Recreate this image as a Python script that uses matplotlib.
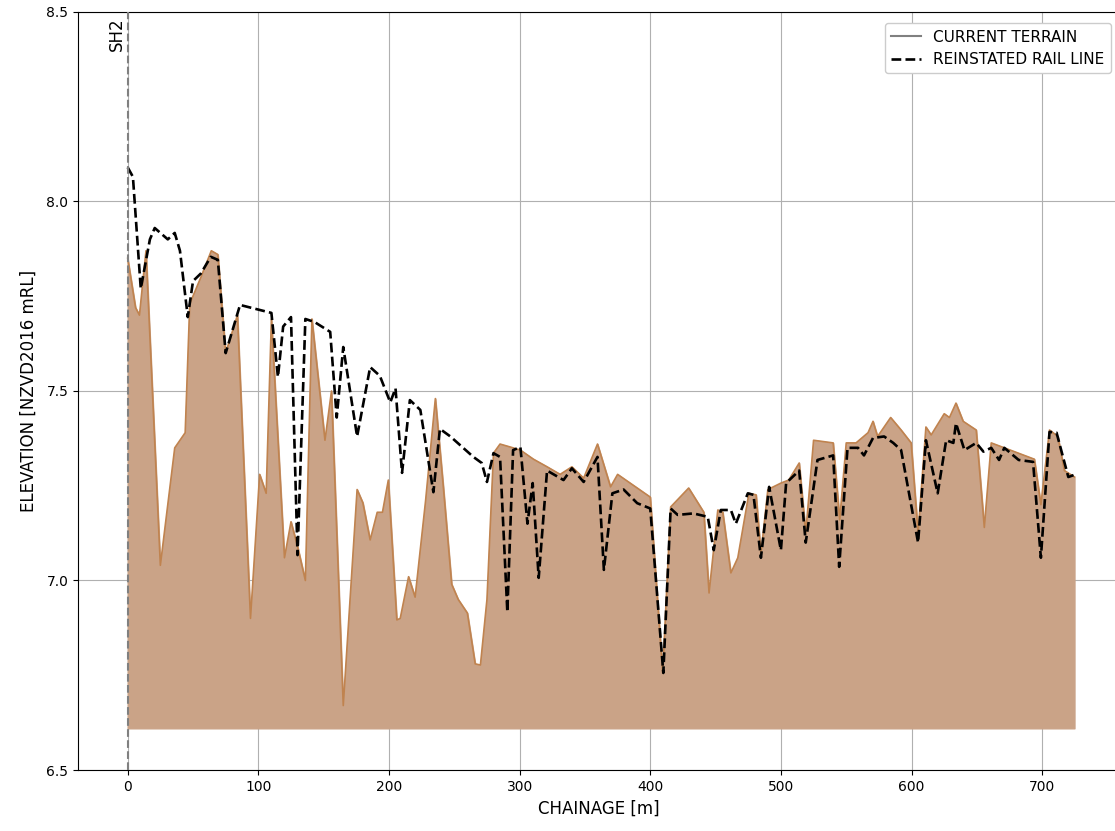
import numpy as np
import matplotlib
matplotlib.use('Agg')
import matplotlib.pyplot as plt
from matplotlib.lines import Line2D

# current terrain profile (chainage m, elevation mRL)
terrain_x = [0, 6, 9, 14, 25, 36, 44, 47.5, 56, 64, 69, 75, 84, 94, 101, 106, 110, 120, 125, 130, 136,
             141, 151, 156, 165, 175.6, 180, 185.6, 191, 195, 199.5, 206, 208.6, 215, 220, 228, 235.5,
             241.6, 248, 253, 260, 266, 270, 275, 280, 285, 295, 300.6, 310.6, 321, 331, 340, 349,
             359.6, 369.6, 375, 400, 409.5, 415.6, 429.4, 441, 445, 451.7, 455.5, 461.7, 467, 475.5,
             481, 484.7, 490, 500, 506, 514, 519, 525, 540, 545, 550, 557.5, 566.7, 570.5, 574, 584,
             592, 599.7, 605, 611, 615, 625, 629, 634, 639.5, 649.5, 655.7, 661, 671, 694, 699, 705.6,
             712, 717, 724.7]
terrain_z = [7.85, 7.72, 7.70, 7.87, 7.04, 7.35, 7.39, 7.73, 7.80, 7.87, 7.86, 7.60, 7.70, 6.90, 7.28,
             7.23, 7.69, 7.06, 7.155, 7.09, 7.00, 7.69, 7.37, 7.50, 6.67, 7.24, 7.205, 7.107, 7.18,
             7.18, 7.265, 6.896, 6.90, 7.01, 6.956, 7.21, 7.48, 7.247, 6.99, 6.95, 6.914, 6.78, 6.777,
             6.95, 7.336, 7.36, 7.35, 7.344, 7.32, 7.30, 7.28, 7.30, 7.27, 7.36, 7.247, 7.28, 7.22,
             6.756, 7.194, 7.244, 7.18, 6.967, 7.186, 7.18, 7.02, 7.06, 7.23, 7.226, 7.07, 7.24,
             7.257, 7.265, 7.31, 7.125, 7.37, 7.363, 7.16, 7.363, 7.363, 7.39, 7.42, 7.38, 7.43,
             7.397, 7.363, 7.125, 7.405, 7.384, 7.44, 7.43, 7.468, 7.42, 7.397, 7.14, 7.363, 7.35,
             7.32, 7.2, 7.397, 7.38, 7.29, 7.273]

# reinstated rail line
rail_x = [0, 4, 10, 17, 20.7, 30.7, 36, 40, 46, 50, 56, 63.6, 69, 75, 86, 110, 115, 119, 125, 130, 136,
          143, 155, 160, 165, 175.6, 185.6, 193, 201, 205, 210, 216, 224, 234, 239, 247, 264.6, 271,
          275, 280, 285, 290.6, 295, 300.6, 306, 310, 314.6, 321, 333.6, 340, 349, 359.6, 364.5, 371,
          379.6, 390, 400, 410, 415.6, 421, 433, 444, 448.6, 454, 461.7, 465.5, 474.7, 479, 484.7,
          491, 500, 504, 514, 519, 528, 540, 544.6, 551, 559, 563.6, 570.5, 579, 586, 592, 605, 611,
          620, 626.5, 632, 634, 640.5, 649.5, 655, 661, 667, 671, 682, 693, 699, 705.6, 711, 720, 724]
rail_z = [8.09, 8.065, 7.77, 7.90, 7.93, 7.90, 7.917, 7.87, 7.695, 7.79, 7.81, 7.854, 7.846, 7.60,
          7.727, 7.706, 7.537, 7.67, 7.695, 7.067, 7.69, 7.682, 7.656, 7.43, 7.616, 7.38, 7.563, 7.54,
          7.47, 7.507, 7.284, 7.476, 7.45, 7.233, 7.40, 7.38, 7.326, 7.31, 7.26, 7.336, 7.326, 6.917,
          7.344, 7.352, 7.15, 7.257, 7.007, 7.29, 7.265, 7.296, 7.26, 7.326, 7.028, 7.23, 7.24, 7.204,
          7.19, 6.756, 7.19, 7.173, 7.177, 7.168, 7.08, 7.186, 7.186, 7.15, 7.23, 7.226, 7.06, 7.247,
          7.08, 7.257, 7.29, 7.10, 7.318, 7.33, 7.036, 7.35, 7.35, 7.33, 7.376, 7.38, 7.363, 7.344,
          7.10, 7.37, 7.23, 7.37, 7.363, 7.415, 7.344, 7.363, 7.34, 7.35, 7.318, 7.35, 7.318, 7.313,
          7.06, 7.392, 7.39, 7.273, 7.278]

fill_base = 6.61
sh2_x = 0

fig = plt.figure(figsize=(11.15, 8.31), dpi=100)
ax = fig.add_axes([0.07, 0.0734, 0.935, 0.9122])

ax.fill_between(terrain_x, terrain_z, fill_base, color='#caa387', zorder=2)
ax.plot(terrain_x, terrain_z, color='#c0834f', lw=1.2, zorder=3)
ax.plot(rail_x, rail_z, color='black', ls='--', lw=1.9, zorder=4)

ax.axvline(sh2_x, color='gray', ls='--', lw=1.5, zorder=5)
ax.annotate('SH2', xy=(sh2_x, 8.485), xytext=(-2, 0), textcoords='offset pixels',
            rotation=90, ha='right', va='top', fontsize=12)

ax.set_xlim(-38, 760)
ax.set_ylim(6.5, 8.5)
ax.set_yticks([6.5, 7.0, 7.5, 8.0, 8.5])
ax.set_xticks(np.arange(0, 701, 100))
ax.tick_params(labelsize=10)
ax.grid(True, color='#b0b0b0', lw=0.8, zorder=0)
ax.set_axisbelow(True)
ax.set_xlabel('CHAINAGE [m]', fontsize=12)
ax.set_ylabel('ELEVATION [NZVD2016 mRL]', fontsize=12, labelpad=6)

handles = [Line2D([0], [0], color='gray', lw=1.5),
           Line2D([0], [0], color='black', ls='--', lw=1.9)]
ax.legend(handles, ['CURRENT TERRAIN', 'REINSTATED RAIL LINE'], loc='upper right',
          bbox_to_anchor=(0.998, 0.995), fontsize=11, framealpha=1)

fig.savefig('out.png', dpi=100)
